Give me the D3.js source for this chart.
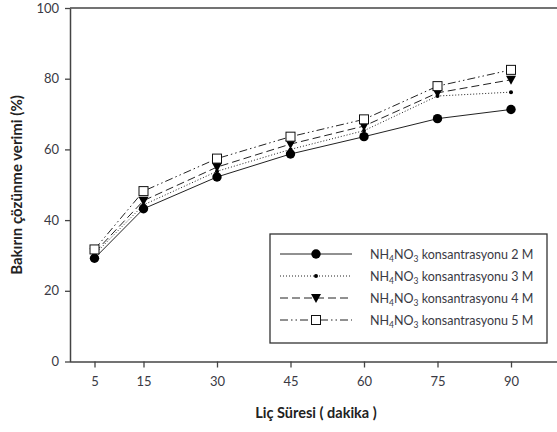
<!DOCTYPE html>
<html><head><meta charset="utf-8">
<script src="https://cdn.jsdelivr.net/npm/d3@7"></script>
<style>body{margin:0;background:#fff}svg{display:block}text{font-family:Lato,"Open Sans",sans-serif}</style>
</head><body><svg id="c" width="557" height="432"></svg>
<script>
const times = [5, 15, 30, 45, 60, 75, 90];
const s2M = [29.2, 43.2, 52.2, 58.7, 63.6, 68.7, 71.3];
const s3M = [30.3, 44.3, 53.8, 60.0, 65.3, 75.1, 76.2];
const s4M = [30.8, 45.5, 55.0, 61.5, 66.6, 76.0, 79.7];
const s5M = [31.7, 48.2, 57.4, 63.6, 68.5, 77.9, 82.5];
const yTicks = [0, 20, 40, 60, 80, 100];
const xTicks = [5, 15, 30, 45, 60, 75, 90];
const seriesNames = ["2 M", "3 M", "4 M", "5 M"];
const seriesData = [s2M, s3M, s4M, s5M];

const svg = d3.select("#c");
const x = d3.scaleLinear().domain([0, 100]).range([70, 560]);
const y = d3.scaleLinear().domain([0, 100]).range([361.5, 8]);
const ink = "#222", txt = "#3a3a44";

svg.append("line").attr("x1", 70).attr("x2", 557).attr("y1", y(100)).attr("y2", y(100))
  .attr("stroke", "#444").attr("stroke-width", 1.5);

const ya = svg.append("g").attr("transform", "translate(70,0)")
  .call(d3.axisLeft(y).tickValues(yTicks).tickSize(5).tickSizeOuter(0).tickPadding(6));
const xa = svg.append("g").attr("transform", `translate(0,${y(0)})`)
  .call(d3.axisBottom(x).tickValues(xTicks).tickSize(6).tickSizeOuter(0).tickPadding(9));
[ya, xa].forEach(g => {
  g.select(".domain").attr("stroke", "#444").attr("stroke-width", 1.5);
  g.selectAll(".tick line").attr("stroke", "#444").attr("stroke-width", 1.3);
  g.selectAll(".tick text").attr("fill", txt).attr("font-size", 13).attr("font-family", "Lato,sans-serif");
});
xa.select(".domain").attr("d", `M70,0.5H557`);

svg.append("text").attr("x", 316).attr("y", 418).attr("text-anchor", "middle")
  .attr("font-size", 14.5).attr("font-weight", "bold").attr("fill", "#222").text("Liç Süresi ( dakika )");
svg.append("text").attr("transform", "translate(22,185) rotate(-90)").attr("text-anchor", "middle")
  .attr("font-size", 15).attr("font-weight", "bold").attr("fill", "#222").text("Bakırın çözünme verimi (%)");

const dashes = [null, "1,2", "8,4", "8,3,1.5,3,1.5,3"];
const line = d3.line().x((d, i) => x(times[i])).y(d => y(d));

function marker(g, k, cx, cy) {
  if (k === 0) g.append("circle").attr("cx", cx).attr("cy", cy).attr("r", 4.7).attr("fill", "#000");
  else if (k === 1) g.append("circle").attr("cx", cx).attr("cy", cy).attr("r", 2).attr("fill", "#000");
  else if (k === 2) g.append("path").attr("d", `M${cx-5},${cy-4}L${cx+5},${cy-4}L${cx},${cy+5}Z`).attr("fill", "#000");
  else g.append("rect").attr("x", cx-4.5).attr("y", cy-4.5).attr("width", 9).attr("height", 9)
    .attr("fill", "#fff").attr("stroke", "#111").attr("stroke-width", 1);
}

seriesData.forEach((s, k) => {
  svg.append("path").datum(s).attr("d", line).attr("fill", "none")
    .attr("stroke", ink).attr("stroke-width", 1).attr("stroke-dasharray", dashes[k]);
});
[1, 0, 2, 3].forEach(k => {
  const g = svg.append("g");
  seriesData[k].forEach((v, i) => marker(g, k, x(times[i]), y(v)));
});

svg.append("rect").attr("x", 270).attr("y", 234).attr("width", 277).attr("height", 109)
  .attr("fill", "#fff").attr("stroke", "#333").attr("stroke-width", 1.3);
const ly = [254, 276, 298, 320];
seriesNames.forEach((n, k) => {
  svg.append("line").attr("x1", 280).attr("x2", 352).attr("y1", ly[k]).attr("y2", ly[k])
    .attr("stroke", ink).attr("stroke-width", 1).attr("stroke-dasharray", dashes[k]);
  marker(svg, k, 316, ly[k]);
  const t = svg.append("text").attr("x", 370).attr("y", ly[k] + 4.5).attr("font-size", 12.5).attr("fill", txt);
  t.append("tspan").text("NH");
  t.append("tspan").attr("dy", 3).attr("font-size", 8.5).text("4");
  t.append("tspan").attr("dy", -3).text("NO");
  t.append("tspan").attr("dy", 3).attr("font-size", 8.5).text("3");
  t.append("tspan").attr("dy", -3).text(" konsantrasyonu " + n);
});
</script></body></html>
